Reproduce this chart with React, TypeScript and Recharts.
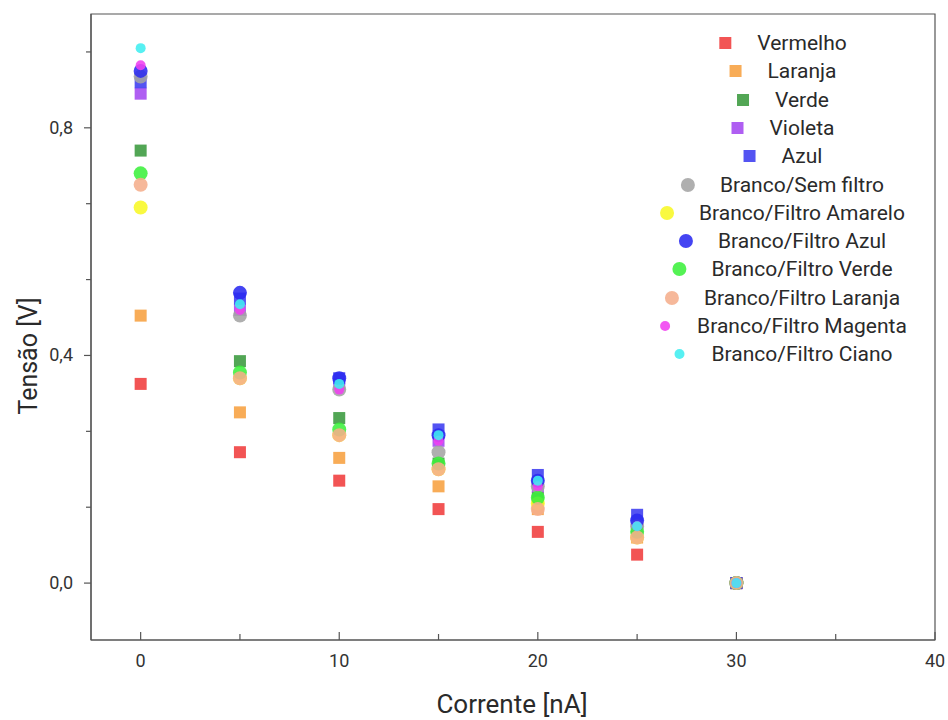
import { ScatterChart, Scatter, XAxis, YAxis, ReferenceArea } from 'recharts';

const correntes = [0, 5, 10, 15, 20, 25, 30];

const vermelho = [0.35, 0.23, 0.18, 0.13, 0.09, 0.05, 0];
const laranja = [0.47, 0.30, 0.22, 0.17, 0.13, 0.08, 0];
const verde = [0.76, 0.39, 0.29, 0.21, 0.15, 0.09, 0];
const violeta = [0.86, 0.48, 0.35, 0.25, 0.17, 0.10, 0];
const azul = [0.88, 0.50, 0.36, 0.27, 0.19, 0.12, 0];
const semFiltro = [0.89, 0.47, 0.34, 0.23, 0.17, 0.10, 0];
const filtroAmarelo = [0.66, 0.36, 0.26, 0.20, 0.14, 0.08, 0];
const filtroAzul = [0.90, 0.51, 0.36, 0.26, 0.18, 0.11, 0];
const filtroVerde = [0.72, 0.37, 0.27, 0.21, 0.15, 0.09, 0];
const filtroLaranja = [0.70, 0.36, 0.26, 0.20, 0.13, 0.08, 0];
const filtroMagenta = [0.91, 0.48, 0.34, 0.25, 0.17, 0.10, 0];
const filtroCiano = [0.94, 0.49, 0.35, 0.26, 0.18, 0.10, 0];

const xTicksMajor = [0, 10, 20, 30, 40];
const xTicksMinor = [5, 15, 25, 35];
const yTicksMajor = [0, 0.4, 0.8];
const yTicksMinor = [0.4 / 3, 0.8 / 3, 0.4 + 0.4 / 3, 0.4 + 0.8 / 3, 0.8 + 0.4 / 3];

const series = [
  { name: 'Vermelho', values: vermelho, color: '#f03c3c', shape: 'square', r: 6 },
  { name: 'Laranja', values: laranja, color: '#f7a040', shape: 'square', r: 6 },
  { name: 'Verde', values: verde, color: '#3a9a3e', shape: 'square', r: 6 },
  { name: 'Violeta', values: violeta, color: '#a448f0', shape: 'square', r: 6 },
  { name: 'Azul', values: azul, color: '#3c3cf0', shape: 'square', r: 6 },
  { name: 'Branco/Sem filtro', values: semFiltro, color: '#a4a4a4', shape: 'circle', r: 7 },
  { name: 'Branco/Filtro Amarelo', values: filtroAmarelo, color: '#f8f826', shape: 'circle', r: 7 },
  { name: 'Branco/Filtro Azul', values: filtroAzul, color: '#2a2af0', shape: 'circle', r: 7 },
  { name: 'Branco/Filtro Verde', values: filtroVerde, color: '#3cf03c', shape: 'circle', r: 7 },
  { name: 'Branco/Filtro Laranja', values: filtroLaranja, color: '#f5ae8c', shape: 'circle', r: 7 },
  { name: 'Branco/Filtro Magenta', values: filtroMagenta, color: '#f040f0', shape: 'circle', r: 5 },
  { name: 'Branco/Filtro Ciano', values: filtroCiano, color: '#40eef0', shape: 'circle', r: 5 },
];

const font = 'Roboto, "Noto Sans", sans-serif';

const makeShape = (shape: string, color: string, r: number) => (props: any) => {
  const { cx, cy } = props;
  if (shape === 'square') {
    return <rect x={cx - r} y={cy - r} width={r * 2} height={r * 2} fill={color} fillOpacity={0.88} />;
  }
  return <circle cx={cx} cy={cy} r={r} fill={color} fillOpacity={0.88} />;
};

const XTick = (props: any) => {
  const { x, y, payload } = props;
  const major = xTicksMajor.includes(payload.value);
  return (
    <g>
      <line x1={x} x2={x} y1={y} y2={y - (major ? 8 : 6)} stroke="#555" strokeWidth={1.2} />
      {major && (
        <text x={x} y={y + 27} textAnchor="middle" fontSize={18} fill="#333" fontFamily={font}>
          {payload.value}
        </text>
      )}
    </g>
  );
};

const YTick = (props: any) => {
  const { x, y, payload } = props;
  const major = yTicksMajor.some((t) => Math.abs(t - payload.value) < 1e-6);
  return (
    <g>
      <line x1={x} x2={x - (major ? 7 : 5)} y1={y} y2={y} stroke="#555" strokeWidth={1.2} />
      {major && (
        <text x={x - 18} y={y + 6} textAnchor="end" fontSize={18} fill="#333" fontFamily={font}>
          {payload.value.toFixed(1).replace('.', ',')}
        </text>
      )}
    </g>
  );
};

export default function App() {
  return (
    <div style={{ position: 'relative', width: 948, height: 720, background: '#fff', fontFamily: font }}>
      <style>{'body{margin:0}'}</style>
      <ScatterChart width={948} height={720} margin={{ top: 14, right: 13, left: 0, bottom: 0 }}>
        <XAxis
          type="number"
          dataKey="x"
          domain={[-2.5, 40]}
          ticks={[...xTicksMajor, ...xTicksMinor].sort((a, b) => a - b)}
          allowDataOverflow
          height={80}
          tickSize={0}
          tickMargin={0}
          tickLine={false}
          axisLine={{ stroke: '#555', strokeWidth: 1.2 }}
          tick={<XTick />}
          interval={0}
        />
        <YAxis
          type="number"
          dataKey="y"
          domain={[-0.1, 1.0]}
          ticks={[...yTicksMajor, ...yTicksMinor].sort((a, b) => a - b)}
          allowDataOverflow
          width={91}
          tickSize={0}
          tickMargin={0}
          tickLine={false}
          axisLine={{ stroke: '#555', strokeWidth: 1.2 }}
          tick={<YTick />}
          interval={0}
        />
        <ReferenceArea x1={-2.5} x2={40} y1={-0.1} y2={1.0} fill="none" stroke="#555" strokeWidth={1.2} />
        {series.map((s) => (
          <Scatter
            key={s.name}
            name={s.name}
            data={correntes.map((c, i) => ({ x: c, y: s.values[i] }))}
            shape={makeShape(s.shape, s.color, s.r)}
            isAnimationActive={false}
          />
        ))}
      </ScatterChart>

      {/* legend */}
      {series.map((s, i) => (
        <div
          key={s.name}
          style={{
            position: 'absolute',
            left: 802,
            top: 43 + i * 28.3,
            transform: 'translate(-50%, -50%)',
            fontSize: 21,
            color: '#2a2a2a',
            whiteSpace: 'nowrap',
            lineHeight: '24px',
          }}
        >
          <span
            style={{
              position: 'absolute',
              left: -32 - s.r,
              top: 12 - s.r,
              width: s.r * 2,
              height: s.r * 2,
              background: s.color,
              opacity: 0.88,
              borderRadius: s.shape === 'circle' ? '50%' : 0,
            }}
          />
          {s.name}
        </div>
      ))}

      {/* axis titles */}
      <div
        style={{
          position: 'absolute',
          left: 28,
          top: 356,
          transform: 'translate(-50%, -50%) rotate(-90deg)',
          fontSize: 25,
          color: '#2a2a2a',
          whiteSpace: 'nowrap',
        }}
      >
        Tensão [V]
      </div>
      <div
        style={{
          position: 'absolute',
          left: 512,
          top: 704,
          transform: 'translate(-50%, -50%)',
          fontSize: 26,
          color: '#2a2a2a',
          whiteSpace: 'nowrap',
        }}
      >
        Corrente [nA]
      </div>
    </div>
  );
}
